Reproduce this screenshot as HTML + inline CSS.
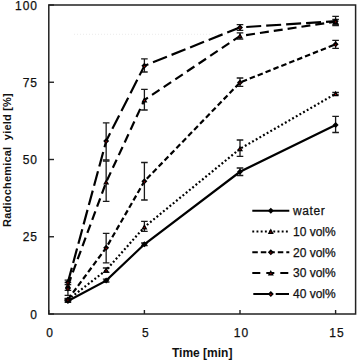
<!DOCTYPE html>
<html><head><meta charset="utf-8"><style>
html,body{margin:0;padding:0;background:#fff;}
body{width:358px;height:361px;overflow:hidden;}
svg{display:block;}
text{font-family:"Liberation Sans",sans-serif;fill:#111;}
.tk{font-size:12px;letter-spacing:1px;stroke:#111;stroke-width:0.25px;}
.lg{font-size:12px;stroke:#111;stroke-width:0.25px;}
.lw{letter-spacing:0.6px;}
.ti{font-size:12px;font-weight:bold;}
.yt{font-size:11px;letter-spacing:0.2px;}
</style></head><body>
<svg width="358" height="361" viewBox="0 0 358 361">
<rect x="48.8" y="5.0" width="306.80" height="309.00" fill="none" stroke="#222" stroke-width="1.5"/>
<line x1="74" y1="34.3" x2="226" y2="34.3" stroke="#ececec" stroke-width="1" stroke-dasharray="1 2"/>
<line x1="48.8" y1="314.00" x2="54.00" y2="314.00" stroke="#222" stroke-width="1.4"/>
<text x="38.0" y="318.60" text-anchor="end" class="tk">0</text>
<line x1="48.8" y1="236.75" x2="54.00" y2="236.75" stroke="#222" stroke-width="1.4"/>
<text x="38.0" y="241.35" text-anchor="end" class="tk">25</text>
<line x1="48.8" y1="159.50" x2="54.00" y2="159.50" stroke="#222" stroke-width="1.4"/>
<text x="38.0" y="164.10" text-anchor="end" class="tk">50</text>
<line x1="48.8" y1="82.25" x2="54.00" y2="82.25" stroke="#222" stroke-width="1.4"/>
<text x="38.0" y="86.85" text-anchor="end" class="tk">75</text>
<line x1="48.8" y1="5.00" x2="54.00" y2="5.00" stroke="#222" stroke-width="1.4"/>
<text x="38.0" y="9.60" text-anchor="end" class="tk">100</text>
<line x1="48.80" y1="314.0" x2="48.80" y2="310.00" stroke="#222" stroke-width="1.4"/>
<text x="50.20" y="336.6" text-anchor="middle" class="tk">0</text>
<line x1="144.40" y1="314.0" x2="144.40" y2="310.00" stroke="#222" stroke-width="1.4"/>
<text x="145.80" y="336.6" text-anchor="middle" class="tk">5</text>
<line x1="240.00" y1="314.0" x2="240.00" y2="310.00" stroke="#222" stroke-width="1.4"/>
<text x="241.40" y="336.6" text-anchor="middle" class="tk">10</text>
<line x1="335.60" y1="314.0" x2="335.60" y2="310.00" stroke="#222" stroke-width="1.4"/>
<text x="337.00" y="336.6" text-anchor="middle" class="tk">15</text>
<path d="M67.92 300.00V302.30M64.62 300.00H71.22M64.62 302.30H71.22" stroke="#1a1a1a" stroke-width="1.3" fill="none"/>
<path d="M106.16 279.20V282.00M102.86 279.20H109.46M102.86 282.00H109.46" stroke="#1a1a1a" stroke-width="1.3" fill="none"/>
<path d="M144.40 243.00V245.60M141.10 243.00H147.70M141.10 245.60H147.70" stroke="#1a1a1a" stroke-width="1.3" fill="none"/>
<path d="M240.00 168.00V175.50M236.70 168.00H243.30M236.70 175.50H243.30" stroke="#1a1a1a" stroke-width="1.3" fill="none"/>
<path d="M335.60 116.30V132.50M332.30 116.30H338.90M332.30 132.50H338.90" stroke="#1a1a1a" stroke-width="1.3" fill="none"/>
<path d="M67.92 298.80V300.80M64.62 298.80H71.22M64.62 300.80H71.22" stroke="#1a1a1a" stroke-width="1.3" fill="none"/>
<path d="M106.16 268.00V272.40M102.86 268.00H109.46M102.86 272.40H109.46" stroke="#1a1a1a" stroke-width="1.3" fill="none"/>
<path d="M144.40 221.30V231.30M141.10 221.30H147.70M141.10 231.30H147.70" stroke="#1a1a1a" stroke-width="1.3" fill="none"/>
<path d="M240.00 140.00V156.30M236.70 140.00H243.30M236.70 156.30H243.30" stroke="#1a1a1a" stroke-width="1.3" fill="none"/>
<path d="M335.60 92.50V95.00M332.30 92.50H338.90M332.30 95.00H338.90" stroke="#1a1a1a" stroke-width="1.3" fill="none"/>
<path d="M67.92 298.50V300.50M64.62 298.50H71.22M64.62 300.50H71.22" stroke="#1a1a1a" stroke-width="1.3" fill="none"/>
<path d="M106.16 233.40V262.90M102.86 233.40H109.46M102.86 262.90H109.46" stroke="#1a1a1a" stroke-width="1.3" fill="none"/>
<path d="M144.40 162.50V200.00M141.10 162.50H147.70M141.10 200.00H147.70" stroke="#1a1a1a" stroke-width="1.3" fill="none"/>
<path d="M240.00 78.00V86.30M236.70 78.00H243.30M236.70 86.30H243.30" stroke="#1a1a1a" stroke-width="1.3" fill="none"/>
<path d="M335.60 40.30V48.30M332.30 40.30H338.90M332.30 48.30H338.90" stroke="#1a1a1a" stroke-width="1.3" fill="none"/>
<path d="M67.92 282.50V290.40M64.62 282.50H71.22M64.62 290.40H71.22" stroke="#1a1a1a" stroke-width="1.3" fill="none"/>
<path d="M106.16 161.00V201.30M102.86 161.00H109.46M102.86 201.30H109.46" stroke="#1a1a1a" stroke-width="1.3" fill="none"/>
<path d="M144.40 89.30V110.00M141.10 89.30H147.70M141.10 110.00H147.70" stroke="#1a1a1a" stroke-width="1.3" fill="none"/>
<path d="M240.00 32.90V39.10M236.70 32.90H243.30M236.70 39.10H243.30" stroke="#1a1a1a" stroke-width="1.3" fill="none"/>
<path d="M335.60 19.50V24.50M332.30 19.50H338.90M332.30 24.50H338.90" stroke="#1a1a1a" stroke-width="1.3" fill="none"/>
<path d="M67.92 280.20V284.60M64.62 280.20H71.22M64.62 284.60H71.22" stroke="#1a1a1a" stroke-width="1.3" fill="none"/>
<path d="M106.16 122.90V159.80M102.86 122.90H109.46M102.86 159.80H109.46" stroke="#1a1a1a" stroke-width="1.3" fill="none"/>
<path d="M144.40 58.80V72.00M141.10 58.80H147.70M141.10 72.00H147.70" stroke="#1a1a1a" stroke-width="1.3" fill="none"/>
<path d="M240.00 24.60V30.40M236.70 24.60H243.30M236.70 30.40H243.30" stroke="#1a1a1a" stroke-width="1.3" fill="none"/>
<path d="M335.60 16.30V25.60M332.30 16.30H338.90M332.30 25.60H338.90" stroke="#1a1a1a" stroke-width="1.3" fill="none"/>
<path d="M67.92 286V295.4M64.62 295.4H71.22" stroke="#1a1a1a" stroke-width="1.3" fill="none"/>
<path d="M67.92 301.00L106.16 280.60L144.40 244.30L240.00 171.80L335.60 125.00" fill="none" stroke="#000" stroke-width="2.2"/>
<path d="M67.92 299.80L106.16 270.20L144.40 227.00L240.00 148.80L335.60 93.80" fill="none" stroke="#000" stroke-width="2.2" stroke-dasharray="1.9 2.3"/>
<path d="M67.92 299.50L106.16 247.80L144.40 181.30L240.00 82.50L335.60 44.30" fill="none" stroke="#000" stroke-width="2.2" stroke-dasharray="5.5 3"/>
<path d="M67.92 285.50L106.16 182.20L144.40 100.00L240.00 36.00L335.60 21.60" fill="none" stroke="#000" stroke-width="2.2" stroke-dasharray="9 5"/>
<path d="M67.92 282.30L106.16 141.10L144.40 65.80L240.00 27.40L335.60 21.20" fill="none" stroke="#000" stroke-width="2.2" stroke-dasharray="15 5"/>
<path d="M64.92 301.00L67.92 298.00L70.92 301.00L67.92 304.00Z" fill="#000"/>
<path d="M103.16 280.60L106.16 277.60L109.16 280.60L106.16 283.60Z" fill="#000"/>
<path d="M141.40 244.30L144.40 241.30L147.40 244.30L144.40 247.30Z" fill="#000"/>
<path d="M237.00 171.80L240.00 168.80L243.00 171.80L240.00 174.80Z" fill="#000"/>
<path d="M332.60 125.00L335.60 122.00L338.60 125.00L335.60 128.00Z" fill="#000"/>
<path d="M64.92 302.20L67.92 296.80L70.92 302.20Z" fill="#000"/><circle cx="67.92" cy="300.40" r="0.65" fill="#b00000"/>
<path d="M103.16 272.60L106.16 267.20L109.16 272.60Z" fill="#000"/><circle cx="106.16" cy="270.80" r="0.65" fill="#b00000"/>
<path d="M141.40 229.40L144.40 224.00L147.40 229.40Z" fill="#000"/><circle cx="144.40" cy="227.60" r="0.65" fill="#b00000"/>
<path d="M237.00 151.20L240.00 145.80L243.00 151.20Z" fill="#000"/><circle cx="240.00" cy="149.40" r="0.65" fill="#b00000"/>
<path d="M332.60 96.20L335.60 90.80L338.60 96.20Z" fill="#000"/><circle cx="335.60" cy="94.40" r="0.65" fill="#b00000"/>
<path d="M64.92 299.50L67.92 296.50L70.92 299.50L67.92 302.50Z" fill="#000"/><circle cx="67.92" cy="300.10" r="0.65" fill="#b00000"/>
<path d="M103.16 247.80L106.16 244.80L109.16 247.80L106.16 250.80Z" fill="#000"/><circle cx="106.16" cy="248.40" r="0.65" fill="#b00000"/>
<path d="M141.40 181.30L144.40 178.30L147.40 181.30L144.40 184.30Z" fill="#000"/><circle cx="144.40" cy="181.90" r="0.65" fill="#b00000"/>
<path d="M237.00 82.50L240.00 79.50L243.00 82.50L240.00 85.50Z" fill="#000"/><circle cx="240.00" cy="83.10" r="0.65" fill="#b00000"/>
<path d="M332.60 44.30L335.60 41.30L338.60 44.30L335.60 47.30Z" fill="#000"/><circle cx="335.60" cy="44.90" r="0.65" fill="#b00000"/>
<path d="M64.92 287.90L67.92 282.50L70.92 287.90Z" fill="#000"/><circle cx="67.92" cy="286.10" r="0.65" fill="#b00000"/>
<path d="M103.16 184.60L106.16 179.20L109.16 184.60Z" fill="#000"/><circle cx="106.16" cy="182.80" r="0.65" fill="#b00000"/>
<path d="M141.40 102.40L144.40 97.00L147.40 102.40Z" fill="#000"/><circle cx="144.40" cy="100.60" r="0.65" fill="#b00000"/>
<path d="M237.00 38.40L240.00 33.00L243.00 38.40Z" fill="#000"/><circle cx="240.00" cy="36.60" r="0.65" fill="#b00000"/>
<path d="M332.60 24.00L335.60 18.60L338.60 24.00Z" fill="#000"/><circle cx="335.60" cy="22.20" r="0.65" fill="#b00000"/>
<path d="M64.92 282.30L67.92 279.30L70.92 282.30L67.92 285.30Z" fill="#000"/><circle cx="67.92" cy="282.90" r="0.65" fill="#b00000"/>
<path d="M103.16 141.10L106.16 138.10L109.16 141.10L106.16 144.10Z" fill="#000"/><circle cx="106.16" cy="141.70" r="0.65" fill="#b00000"/>
<path d="M141.40 65.80L144.40 62.80L147.40 65.80L144.40 68.80Z" fill="#000"/><circle cx="144.40" cy="66.40" r="0.65" fill="#b00000"/>
<path d="M237.00 27.40L240.00 24.40L243.00 27.40L240.00 30.40Z" fill="#000"/><circle cx="240.00" cy="28.00" r="0.65" fill="#b00000"/>
<path d="M332.60 21.20L335.60 18.20L338.60 21.20L335.60 24.20Z" fill="#000"/><circle cx="335.60" cy="21.80" r="0.65" fill="#b00000"/>
<path d="M64.92 288.40L67.92 285.40L70.92 288.40L67.92 291.40Z" fill="#000"/><circle cx="67.92" cy="289.00" r="0.65" fill="#b00000"/>
<line x1="252.3" y1="210.70" x2="289.3" y2="210.70" stroke="#000" stroke-width="2"/>
<path d="M267.80 210.70L270.80 207.70L273.80 210.70L270.80 213.70Z" fill="#000"/>
<text x="293" y="214.90" class="lg lw">water</text>
<line x1="252.3" y1="231.50" x2="289.3" y2="231.50" stroke="#000" stroke-width="2" stroke-dasharray="1.9 2.3"/>
<path d="M267.80 233.90L270.80 228.50L273.80 233.90Z" fill="#000"/><circle cx="270.80" cy="232.10" r="0.65" fill="#b00000"/>
<text x="293" y="235.70" class="lg">10 vol%</text>
<line x1="252.3" y1="252.30" x2="289.3" y2="252.30" stroke="#000" stroke-width="2" stroke-dasharray="5.5 3"/>
<path d="M267.80 252.30L270.80 249.30L273.80 252.30L270.80 255.30Z" fill="#000"/><circle cx="270.80" cy="252.90" r="0.65" fill="#b00000"/>
<text x="293" y="256.50" class="lg">20 vol%</text>
<line x1="252.3" y1="273.10" x2="289.3" y2="273.10" stroke="#000" stroke-width="2" stroke-dasharray="8 6"/>
<path d="M267.80 275.50L270.80 270.10L273.80 275.50Z" fill="#000"/><circle cx="270.80" cy="273.70" r="0.65" fill="#b00000"/>
<text x="293" y="277.30" class="lg">30 vol%</text>
<path d="M253.3 293.90H269M275.7 293.90H289" stroke="#000" stroke-width="2"/>
<path d="M267.80 293.90L270.80 290.90L273.80 293.90L270.80 296.90Z" fill="#000"/><circle cx="270.80" cy="294.50" r="0.65" fill="#b00000"/>
<text x="293" y="298.10" class="lg">40 vol%</text>
<text x="202.2" y="357" text-anchor="middle" class="ti">Time [min]</text>
<text transform="translate(10.8 160) rotate(-90)" text-anchor="middle" class="ti yt">Radiochemical&#160; yield [%]</text>
</svg>
</body></html>
